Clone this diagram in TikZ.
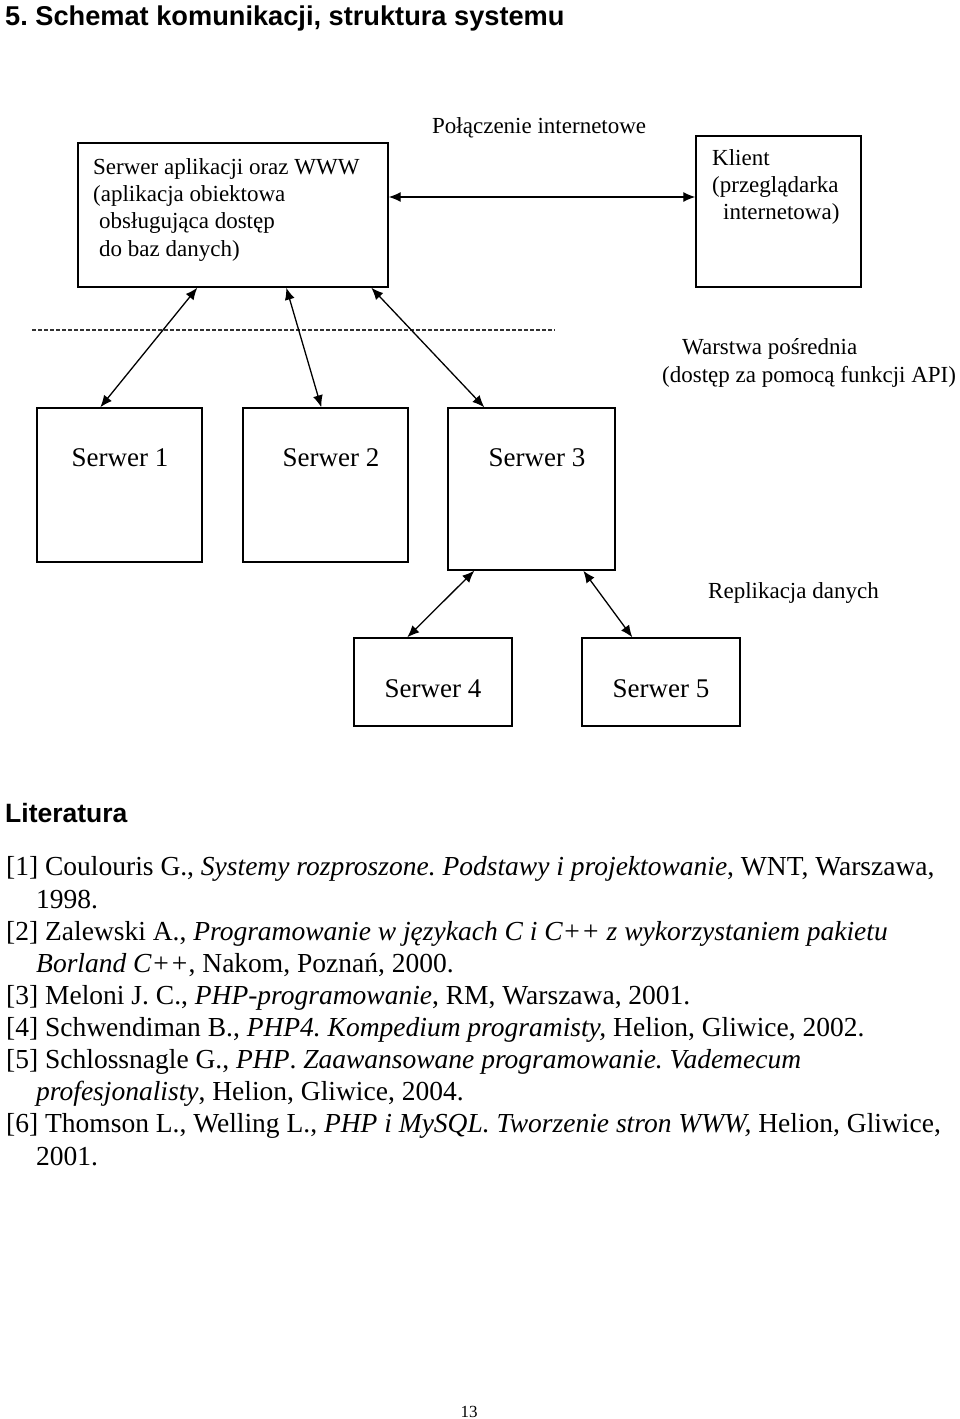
\documentclass[tikz,border=0pt]{standalone}
\usepackage{fontspec}
\setmainfont{Liberation Serif}
\setsansfont{Liberation Sans}
\usetikzlibrary{arrows.meta}
\frenchspacing

\tikzset{
  box/.style={draw, line width=1.4pt, inner sep=0pt},
  link/.style={{Latex[length=12pt,width=10pt]}-{Latex[length=12pt,width=10pt]}, line width=1.3pt},
  sep/.style={draw=black!80, line width=1.2pt, dash pattern=on 4pt off 2pt},
  lbl/.style={inner sep=0pt, font=\fontsize{23}{27.3}\selectfont},
  srv/.style={inner sep=0pt, anchor=base, font=\fontsize{27}{32}\selectfont},
  lit/.style={inner sep=0pt, anchor=base west, font=\fontsize{27.5}{32}\selectfont},
  head/.style={inner sep=0pt, anchor=base west, font=\sffamily\bfseries\fontsize{27.2}{32}\selectfont},
}

\begin{document}
\begin{tikzpicture}[x=1pt,y=-1pt]
    \useasboundingbox (0,0) rectangle (960,1419);

    \node[head] (tytul) at (5,25) {5. Schemat komunikacji, struktura systemu};

    % serwer aplikacji i klient
    \node[box, minimum width=310pt, minimum height=144pt] (app) at (233,215) {};
    \node[box, minimum width=165pt, minimum height=151pt] (klient) at (778.5,211.5) {};

    \node[lbl, anchor=north west, align=left] (apptxt) at (93,158)
        {Serwer aplikacji oraz WWW\\(aplikacja obiektowa\\\hspace*{6pt}obsługująca dostęp\\\hspace*{6pt}do baz danych)};
    \node[lbl, anchor=north west, align=left] (klienttxt) at (712,149)
        {Klient\\(przeglądarka\\\hspace*{11pt}internetowa)};

    \node[lbl, anchor=base west] (polacz) at (432,133) {Połączenie internetowe};
    \draw[link] ([yshift=18pt]app.east) -- ([yshift=14.5pt]klient.west);

    % warstwa posrednia
    \draw[sep] (32,330) -- (555,330);
    \node[lbl, anchor=base west] (warstwa) at (682,354) {Warstwa pośrednia};
    \node[lbl, anchor=base west] (api) at (662,382) {(dostęp za pomocą funkcji API)};

    % serwery
    \node[box, minimum width=165pt, minimum height=154pt] (s1) at (119.5,485) {};
    \node[box, minimum width=165pt, minimum height=154pt] (s2) at (325.5,485) {};
    \node[box, minimum width=167pt, minimum height=162pt] (s3) at (531.5,489) {};
    \node[srv] (s1txt) at (120,466) {Serwer 1};
    \node[srv] (s2txt) at (331,466) {Serwer 2};
    \node[srv] (s3txt) at (537,466) {Serwer 3};

    \draw[link] ([xshift=120pt]app.south west) -- ([xshift=64pt]s1.north west);
    \draw[link] ([xshift=209pt]app.south west) -- ([xshift=79pt]s2.north west);
    \draw[link] ([xshift=294pt]app.south west) -- ([xshift=37pt]s3.north west);

    % replikacja
    \node[lbl, anchor=base west] (repl) at (708,598) {Replikacja danych};
    \node[box, minimum width=158pt, minimum height=88pt] (s4) at (433,682) {};
    \node[box, minimum width=158pt, minimum height=88pt] (s5) at (661,682) {};
    \node[srv] (s4txt) at (433,697) {Serwer 4};
    \node[srv] (s5txt) at (661,697) {Serwer 5};

    \draw[link] ([xshift=27pt]s3.south west) -- ([xshift=54pt]s4.north west);
    \draw[link] ([xshift=136pt]s3.south west) -- ([xshift=51pt]s5.north west);

    % literatura
    \node[head, font=\sffamily\bfseries\fontsize{26.5}{32}\selectfont] (lithead) at (5,822) {Literatura};
    \node[lit] (l1) at (6,875) {[1] Coulouris G., \textit{Systemy rozproszone. Podstawy i projektowanie}, WNT, Warszawa,};
    \node[lit] (l1b) at (36,908) {1998.};
    \node[lit] (l2) at (6,940) {[2] Zalewski A., \textit{Programowanie w językach C i C++ z wykorzystaniem pakietu}};
    \node[lit] (l2b) at (36,972) {\textit{Borland C++}, Nakom, Poznań, 2000.};
    \node[lit] (l3) at (6,1004) {[3] Meloni J. C., \textit{PHP-programowanie}, RM, Warszawa, 2001.};
    \node[lit] (l4) at (6,1036) {[4] Schwendiman B., \textit{PHP4. Kompedium programisty,} Helion, Gliwice, 2002.};
    \node[lit] (l5) at (6,1068) {[5] Schlossnagle G., \textit{PHP}. \textit{Zaawansowane programowanie. Vademecum}};
    \node[lit] (l5b) at (36,1100) {\textit{profesjonalisty}, Helion, Gliwice, 2004.};
    \node[lit] (l6) at (6,1132) {[6] Thomson L., Welling L., \textit{PHP i MySQL. Tworzenie stron WWW,} Helion, Gliwice,};
    \node[lit] (l6b) at (36,1165) {2001.};

    \node[inner sep=0pt, anchor=base, font=\fontsize{17}{20}\selectfont] (strona) at (469,1417) {13};
\end{tikzpicture}
\end{document}
